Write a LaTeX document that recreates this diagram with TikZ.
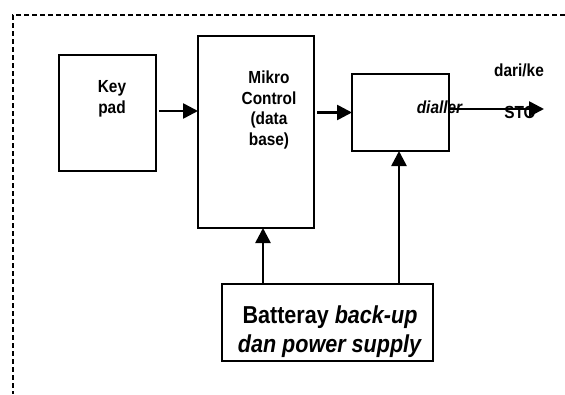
\documentclass[tikz,border=0pt]{standalone}
\usepackage{fontspec}
\setmainfont{Liberation Sans}[FakeStretch=0.88]
\usetikzlibrary{arrows.meta}
\begin{document}
\begin{tikzpicture}[x=1pt,y=-1pt,
  box/.style={draw,line width=1.9pt,inner sep=0pt,outer sep=0pt},
  arr/.style={line width=2.6pt,-{Triangle[length=15pt,width=15pt]}},
  lbl/.style={font=\fontsize{17.5}{20.7}\selectfont\bfseries,inner sep=0pt,align=center},
  biglbl/.style={font=\fontsize{24.5}{29}\selectfont\bfseries,inner sep=0pt,align=center},
  frame/.style={line width=1.6pt,dash pattern=on 5pt off 3pt}]
\useasboundingbox (0,0) rectangle (565,394);
\draw[frame] (565,15) -- (13,15) -- (13,394);
% boxes
\node[box,minimum width=97pt,minimum height=116pt] (kp) at (107.5,113) {};
\node[box,minimum width=116pt,minimum height=192pt] (mk) at (256,132) {};
\node[box,minimum width=97pt,minimum height=77pt] (dl) at (400.5,112.5) {};
\node[box,minimum width=211pt,minimum height=77pt] (bt) at (327.5,322.5) {};
% texts
\node[lbl] (tkp) at (112,98.5) {Key\\pad};
\node[lbl] (tmk) at (269,110) {Mikro\\Control\\(data\\base)};
\node[lbl,anchor=base] (tdl) at (439.5,113) {\itshape dialler};
\node[lbl,anchor=base] (tdk) at (519,76) {dari/ke};
\node[lbl,anchor=base] (tsto) at (520,118) {STO};
\node[biglbl] (tbt) at (330,331.5) {Batteray \textit{back-up}\\\textit{dan power supply}};
\coordinate (out) at (544,109);
% connectors
\draw[arr] ([xshift=3pt,yshift=2pt]kp.east) -- ([yshift=2pt]kp.east -| mk.west);
\draw[arr] ([xshift=3pt]dl.west -| mk.east) -- (dl.west);
\draw[arr] ([yshift=3.5pt]dl.east) -- (out);
\draw[arr] ([xshift=-64.5pt]bt.north) -- ([xshift=-64.5pt]bt.north |- mk.south);
\draw[arr] ([xshift=71.5pt]bt.north) -- ([xshift=71.5pt]bt.north |- dl.south);
\end{tikzpicture}
\end{document}
